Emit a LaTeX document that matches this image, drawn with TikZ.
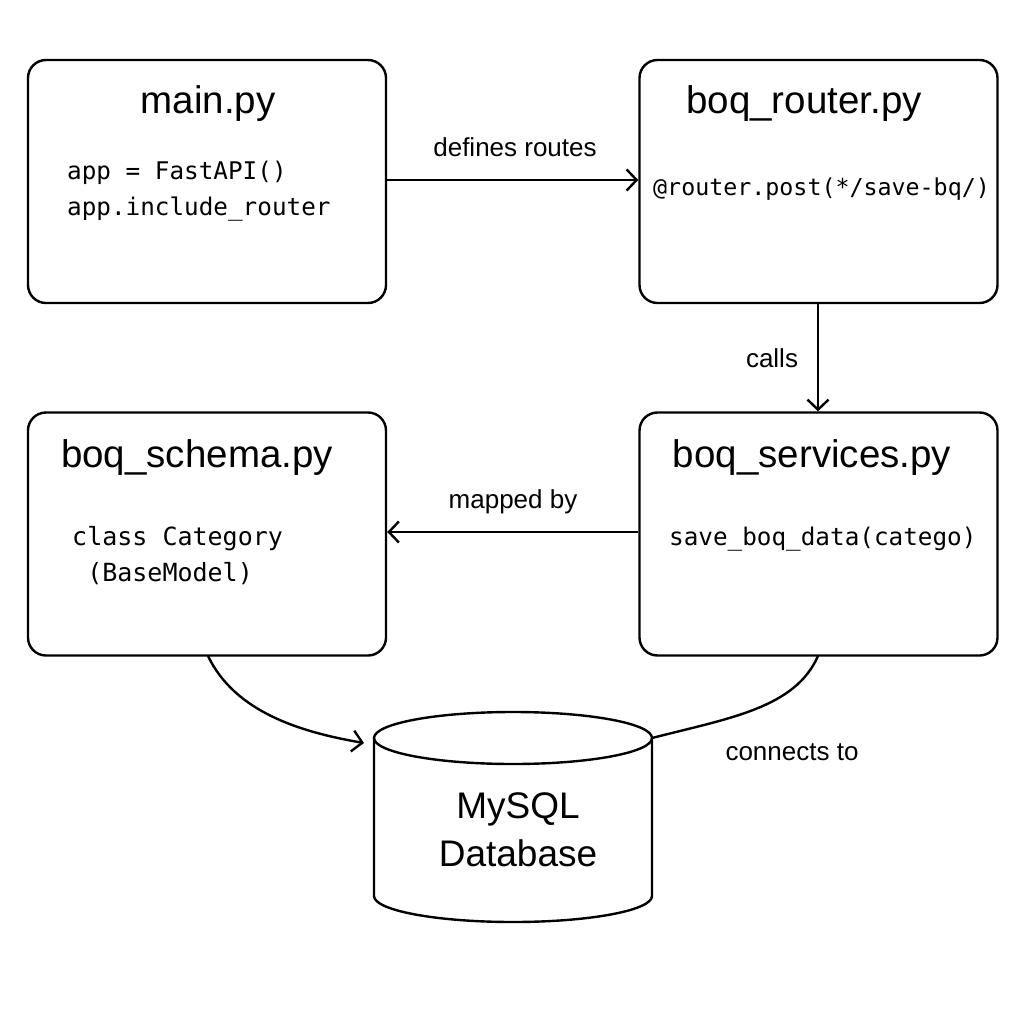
\documentclass[tikz,border=0pt]{standalone}
\usepackage{fontspec}
\setmainfont{Liberation Sans}
\newfontfamily\codefont{DejaVu Sans Mono}
\usetikzlibrary{arrows.meta}
\tikzset{
  filebox/.style={draw, line width=2.4pt, rounded corners=18pt, minimum width=358pt, minimum height=243pt, inner sep=0pt},
  ttl/.style={font=\fontsize{38.5}{40}\selectfont, anchor=base, inner sep=0pt},
  code/.style={font=\codefont\fontsize{24.3}{28}\selectfont, anchor=base west, inner sep=0pt},
  lbl/.style={font=\fontsize{26}{28}\selectfont, anchor=base, inner sep=0pt},
  conn/.style={line width=2.4pt},
  arr/.style={conn, -{Straight Barb[length=10pt,width=21pt,line width=2.4pt]}},
}
\begin{document}
\begin{tikzpicture}[x=1pt,y=-1pt]
\useasboundingbox[fill=white] (0,0) rectangle (1024,1024);
% boxes
\node[filebox] (main) at (207,181.5) {};
\node[filebox] (router) at (818.5,181.5) {};
\node[filebox] (schema) at (207,534) {};
\node[filebox] (services) at (818.5,534) {};
% titles
\node[ttl] (tmain) at (208,114) {main.py};
\node[ttl] (trouter) at (804,114) {boq\_router.py};
\node[ttl] (tschema) at (197,467) {boq\_schema.py};
\node[ttl] (tservices) at (812,467) {boq\_services.py};
% code
\node[code] (c1) at (67,180) {app = FastAPI()};
\node[code] (c2) at (67,216) {app.include\_router};
\node[code, font=\codefont\fontsize{23.3}{28}\selectfont] (c3) at (653,196) {@router.post(*/save-bq/)};
\node[code, font=\codefont\fontsize{25}{28}\selectfont] (c4) at (72,545) {class Category};
\node[code, font=\codefont\fontsize{25}{28}\selectfont] (c5) at (72,581) {\ (BaseModel)};
\node[code] (c6) at (669,545) {save\_boq\_data(catego)};
% database cylinder
\coordinate (dbl) at (374,738);
\coordinate (dbr) at (652,738);
\draw[conn] (513,738) ellipse [x radius=139, y radius=26];
\draw[conn] (374,738) -- (374,896) arc[start angle=180, end angle=0, x radius=139, y radius=26] -- (652,738);
\node[font=\fontsize{37}{48}\selectfont, align=center, inner sep=0pt] (db) at (518,830) {MySQL\\Database};
% connectors
\draw[arr] (main.east |- 0,180) -- (router.west |- 0,180);
\node[lbl] (l1) at (515,157) {defines routes};
\draw[arr] (router.south -| 818,0) -- (services.north -| 818,0);
\node[lbl] (l2) at (772,367) {calls};
\draw[arr] (services.west |- 0,532) -- (schema.east |- 0,532);
\node[lbl] (l3) at (513,508) {mapped by};
\coordinate (s1) at (208,656);
\coordinate (s2) at (818,656);
\draw[arr] (s1) .. controls (235,712) and (300,732) .. (364,743);
\draw[conn] (s2) .. controls (795,708) and (730,718) .. (dbr);
\node[lbl] (l4) at (792,760) {connects to};
\end{tikzpicture}
\end{document}
